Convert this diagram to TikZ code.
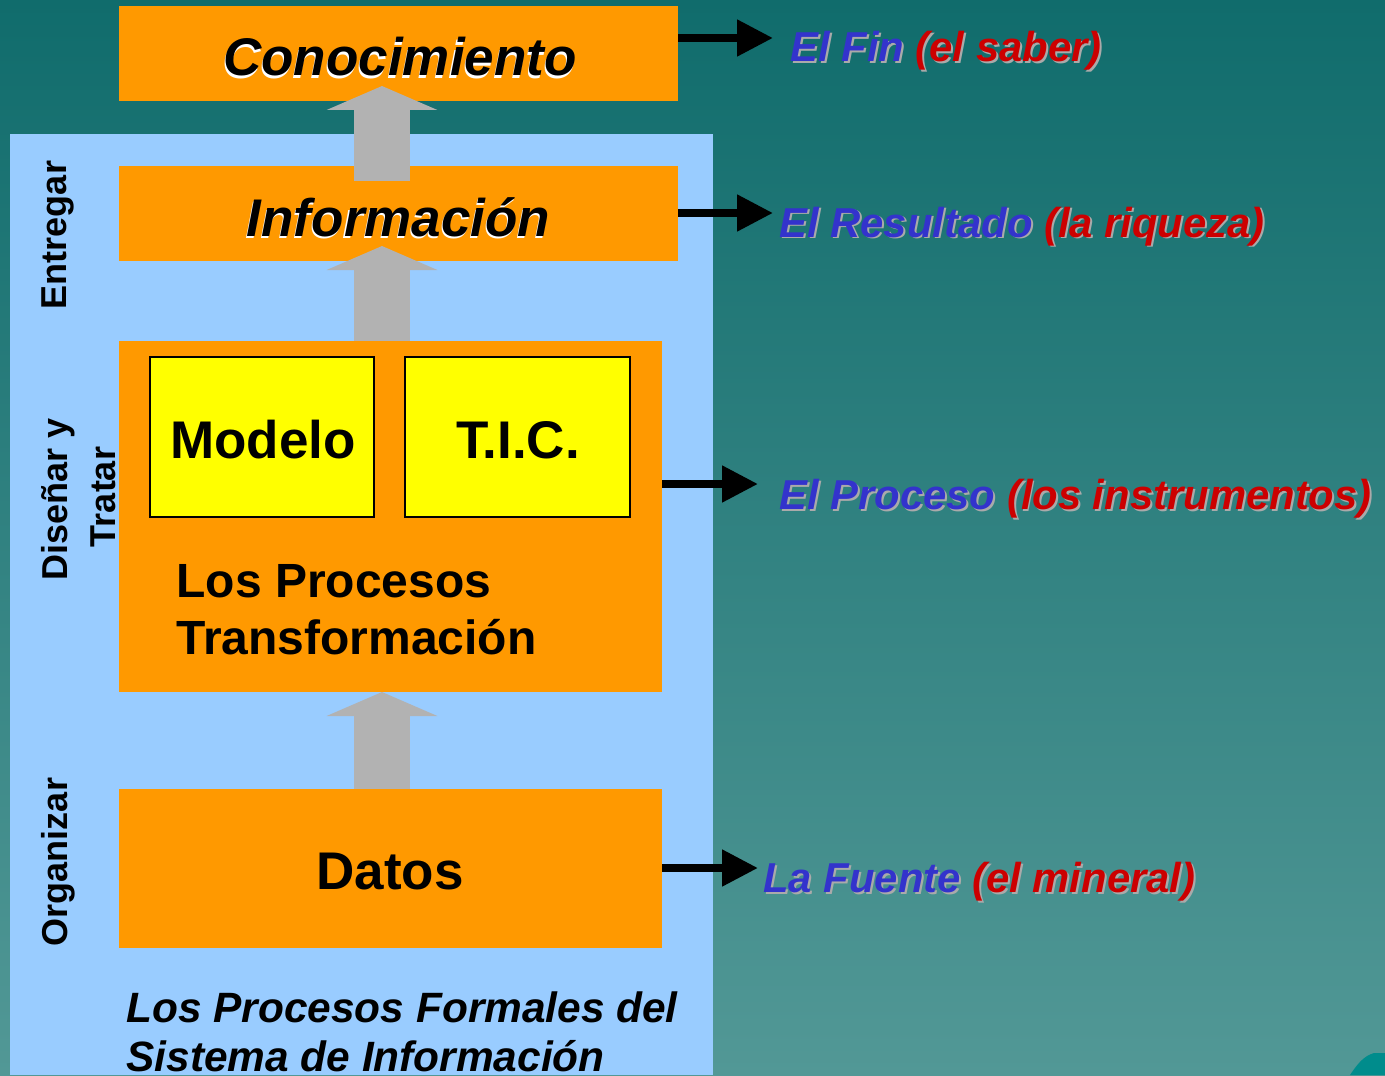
\documentclass[tikz,border=0pt]{standalone}
\usepackage{fontspec}
\setmainfont{Liberation Sans}
\usetikzlibrary{arrows.meta,calc}
\definecolor{bgtop}{RGB}{16,108,108}
\definecolor{bgbot}{RGB}{82,152,150}
\definecolor{panelblue}{RGB}{153,204,255}
\definecolor{orangeA}{RGB}{255,153,0}
\definecolor{yellowA}{RGB}{255,255,0}
\definecolor{arrowgray}{RGB}{178,178,178}
\definecolor{tblue}{RGB}{51,51,204}
\definecolor{tred}{RGB}{204,0,0}
\definecolor{shgray}{RGB}{170,170,170}
\definecolor{logoteal}{RGB}{0,140,140}
\newcommand\myfs[1]{\fontsize{#1}{#1}\selectfont}
\newcommand\whitesh[1]{\makebox[0pt][l]{\hspace{-0.6pt}\raisebox{-1.1pt}{\color{white}#1}}#1}
\newcommand\graysh[1]{\makebox[0pt][l]{\hspace{1pt}\raisebox{-1pt}{\color{shgray}#1}}}
\begin{document}
\begin{tikzpicture}[x=0.5pt,y=-0.5pt,
  obox/.style={fill=orangeA, draw=none, inner sep=0pt, outer sep=0pt},
  ybox/.style={fill=yellowA, draw=black, line width=0.75pt, inner sep=0pt, outer sep=0pt},
  blk/.style={draw=black, line width=4pt, -{Triangle[length=18pt,width=17.5pt]}},
  garrow/.style={draw=arrowgray, line width=28pt, -{Triangle[length=12pt,width=55pt]}},
  bigbi/.style={font=\myfs{26.5}\bfseries\itshape, inner sep=0pt},
  bigb/.style={font=\myfs{26.5}\bfseries, inner sep=0pt},
  midb/.style={font=\myfs{24}\bfseries, inner sep=0pt},
  rlab/.style={font=\myfs{20.9}\bfseries\itshape, inner sep=0pt, anchor=base west},
  vlab/.style={font=\myfs{18}\bfseries, inner sep=0pt, rotate=90},
  btxt/.style={font=\myfs{21.2}\bfseries\itshape, inner sep=0pt, anchor=base west}]
\useasboundingbox (0,0) rectangle (1385,1075);
\shade[top color=bgtop, bottom color=bgbot] (0,0) rectangle (1385,1075);
\fill[logoteal] (1350,1075) .. controls (1358,1063) and (1364,1056) .. (1374,1053) -- (1385,1053) -- (1385,1075) -- cycle;
% panel
\node[fill=panelblue, inner sep=0pt, outer sep=0pt, minimum width=351.5pt, minimum height=470.5pt] (panel) at (361.5,604.5) {};
% boxes
\node[obox, minimum width=279.5pt, minimum height=47.5pt] (con) at (398.5,53.5) {};
\node[obox, minimum width=279.5pt, minimum height=47.5pt] (inf) at (398.5,213.5) {};
\node[obox, minimum width=271.5pt, minimum height=175.5pt] (proc) at (390.5,516.5) {};
\node[obox, minimum width=271.5pt, minimum height=79.5pt] (dat) at (390.5,868.5) {};
\node[ybox, minimum width=112pt, minimum height=80pt] (mod) at (262,437) {};
\node[ybox, minimum width=112.5pt, minimum height=80pt] (tic) at (517.5,437) {};
% gray arrows
\coordinate (ax) at (382,0);
\draw[garrow] (ax |- dat.north) -- (ax |- proc.south);
\draw[garrow] (ax |- proc.north) -- ($(ax |- inf.south)+(0,-15)$);
\draw[garrow] ($(ax |- inf.north)+(0,15)$) -- ($(ax |- con.south)+(0,-15)$);
% black arrows
\coordinate (e1) at (773,38);
\coordinate (e2) at (773,213);
\coordinate (e3) at (758,484);
\coordinate (e4) at (758,868);
\draw[blk] (con.east |- e1) -- (e1);
\draw[blk] (inf.east |- e2) -- (e2);
\draw[blk] (proc.east |- e3) -- (e3);
\draw[blk] (dat.east |- e4) -- (e4);
% box texts
\node[bigbi, anchor=base] (tcon) at (400,76) {\whitesh{Conocimiento}};
\node[bigbi, anchor=base] (tinf) at (398.5,236) {\whitesh{Información}};
\node[bigb, anchor=base] (tmod) at (263,458) {Modelo};
\node[bigb, anchor=base] (ttic) at (518,458) {T.I.C.};
\node[midb, anchor=base west] (tlp) at (176,597) {Los Procesos};
\node[midb, anchor=base west] (ttr) at (176,654) {Transformación};
\node[bigb, anchor=base] (tdat) at (390,889) {Datos};
% bottom text
\node[btxt] (tb1) at (126,1022) {Los Procesos Formales del};
\node[btxt] (tb2) at (126,1071) {Sistema de Información};
% vertical labels
\node[vlab] (ventr) at (58,235) {Entregar};
\node[vlab] (vdis) at (58,499) {Diseñar y};
\node[vlab] (vtra) at (103,497) {Tratar};
\node[vlab] (vorg) at (58,862) {Organizar};
% right labels
\node[rlab] (r1) at (790,62) {\graysh{El Fin (el saber)}{\color{tblue}El Fin} {\color{tred}(el saber)}};
\node[rlab] (r2) at (779,237) {\graysh{El Resultado (la riqueza)}{\color{tblue}El Resultado} {\color{tred}(la riqueza)}};
\node[rlab] (r3) at (779,509) {\graysh{El Proceso (los instrumentos)}{\color{tblue}El Proceso} {\color{tred}(los instrumentos)}};
\node[rlab] (r4) at (763,892) {\graysh{La Fuente (el mineral)}{\color{tblue}La Fuente} {\color{tred}(el mineral)}};
\end{tikzpicture}
\end{document}
